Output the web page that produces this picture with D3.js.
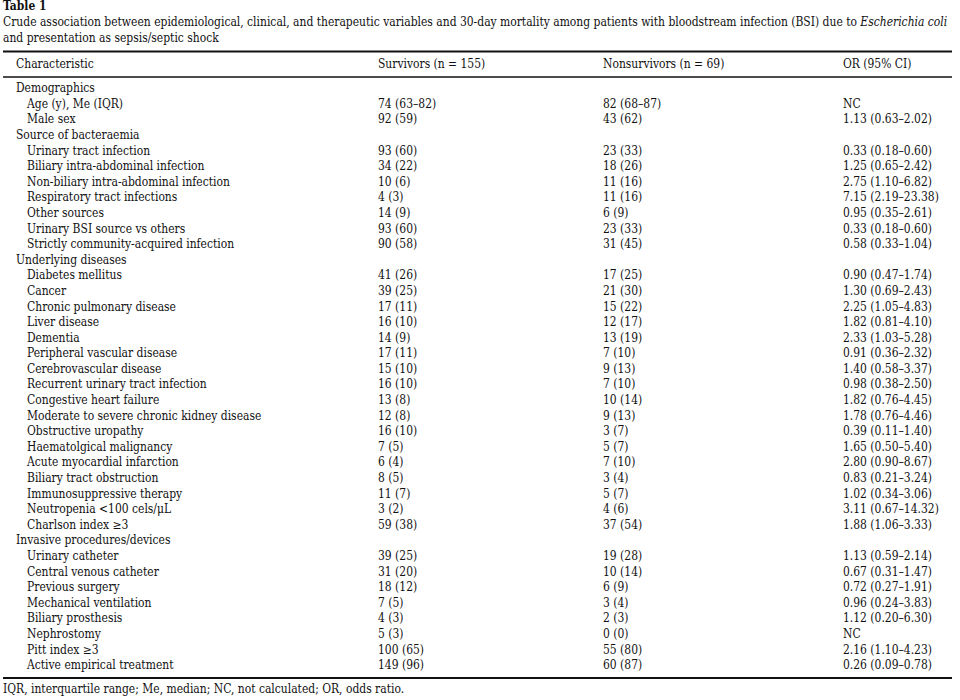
<!DOCTYPE html>
<html>
<head>
<meta charset="utf-8">
<script src="https://cdn.jsdelivr.net/npm/d3@7"></script>
<style>
  body { margin: 0; background: #fff; }
  svg text { font-family: "DejaVu Serif", serif; font-stretch: condensed; fill: #111; }
</style>
</head>
<body>
<svg id="chart"></svg>
<script>
const sectionHeads = [
  'Demographics',
  'Source of bacteraemia',
  'Underlying diseases',
  'Invasive procedures/devices',
];

const characteristics = [
  'Demographics',
  'Age (y), Me (IQR)',
  'Male sex',
  'Source of bacteraemia',
  'Urinary tract infection',
  'Biliary intra-abdominal infection',
  'Non-biliary intra-abdominal infection',
  'Respiratory tract infections',
  'Other sources',
  'Urinary BSI source vs others',
  'Strictly community-acquired infection',
  'Underlying diseases',
  'Diabetes mellitus',
  'Cancer',
  'Chronic pulmonary disease',
  'Liver disease',
  'Dementia',
  'Peripheral vascular disease',
  'Cerebrovascular disease',
  'Recurrent urinary tract infection',
  'Congestive heart failure',
  'Moderate to severe chronic kidney disease',
  'Obstructive uropathy',
  'Haematolgical malignancy',
  'Acute myocardial infarction',
  'Biliary tract obstruction',
  'Immunosuppressive therapy',
  'Neutropenia <100 cels/\u03bcL',
  'Charlson index \u22653',
  'Invasive procedures/devices',
  'Urinary catheter',
  'Central venous catheter',
  'Previous surgery',
  'Mechanical ventilation',
  'Biliary prosthesis',
  'Nephrostomy',
  'Pitt index \u22653',
  'Active empirical treatment',
];

const survivors = [
  '', '74 (63\u201382)', '92 (59)',
  '', '93 (60)', '34 (22)', '10 (6)', '4 (3)', '14 (9)', '93 (60)', '90 (58)',
  '', '41 (26)', '39 (25)', '17 (11)', '16 (10)', '14 (9)', '17 (11)', '15 (10)',
  '16 (10)', '13 (8)', '12 (8)', '16 (10)', '7 (5)', '6 (4)', '8 (5)', '11 (7)',
  '3 (2)', '59 (38)',
  '', '39 (25)', '31 (20)', '18 (12)', '7 (5)', '4 (3)', '5 (3)', '100 (65)', '149 (96)',
];

const nonsurvivors = [
  '', '82 (68\u201387)', '43 (62)',
  '', '23 (33)', '18 (26)', '11 (16)', '11 (16)', '6 (9)', '23 (33)', '31 (45)',
  '', '17 (25)', '21 (30)', '15 (22)', '12 (17)', '13 (19)', '7 (10)', '9 (13)',
  '7 (10)', '10 (14)', '9 (13)', '3 (7)', '5 (7)', '7 (10)', '3 (4)', '5 (7)',
  '4 (6)', '37 (54)',
  '', '19 (28)', '10 (14)', '6 (9)', '3 (4)', '2 (3)', '0 (0)', '55 (80)', '60 (87)',
];

const oddsRatios = [
  '', 'NC', '1.13 (0.63\u20132.02)',
  '', '0.33 (0.18\u20130.60)', '1.25 (0.65\u20132.42)', '2.75 (1.10\u20136.82)',
  '7.15 (2.19\u201323.38)', '0.95 (0.35\u20132.61)', '0.33 (0.18\u20130.60)',
  '0.58 (0.33\u20131.04)',
  '', '0.90 (0.47\u20131.74)', '1.30 (0.69\u20132.43)', '2.25 (1.05\u20134.83)',
  '1.82 (0.81\u20134.10)', '2.33 (1.03\u20135.28)', '0.91 (0.36\u20132.32)',
  '1.40 (0.58\u20133.37)', '0.98 (0.38\u20132.50)', '1.82 (0.76\u20134.45)',
  '1.78 (0.76\u20134.46)', '0.39 (0.11\u20131.40)', '1.65 (0.50\u20135.40)',
  '2.80 (0.90\u20138.67)', '0.83 (0.21\u20133.24)', '1.02 (0.34\u20133.06)',
  '3.11 (0.67\u201314.32)', '1.88 (1.06\u20133.33)',
  '', '1.13 (0.59\u20132.14)', '0.67 (0.31\u20131.47)', '0.72 (0.27\u20131.91)',
  '0.96 (0.24\u20133.83)', '1.12 (0.20\u20136.30)', 'NC', '2.16 (1.10\u20134.23)',
  '0.26 (0.09\u20130.78)',
];

const columnKeys = ['characteristic', 'survivors', 'nonsurvivors', 'or'];
const columnHeads = [
  'Characteristic',
  'Survivors (n = 155)',
  'Nonsurvivors (n = 69)',
  'OR (95% CI)',
];

const tableTitle = 'Table 1';
const captionLines = [
  ['Crude association between epidemiological, clinical, and therapeutic variables and 30-day mortality among patients with bloodstream infection (BSI) due to ', 'Escherichia coli'],
  ['and presentation as sepsis/septic shock', ''],
];
const footnote = 'IQR, interquartile range; Me, median; NC, not calculated; OR, odds ratio.';

const width = 960;
const height = 700;
const left = 3;
const right = 952;

const svg = d3.select('#chart').attr('width', width).attr('height', height);

// caption first, so the font size can be fitted to its width
const captionText = svg
  .append('g')
  .selectAll('text')
  .data(captionLines)
  .join('text')
  .attr('x', left)
  .attr('y', (d, i) => 26 + i * 15.5)
  .style('font-size', '12px');
captionText.append('tspan').text((d) => d[0]);
captionText
  .append('tspan')
  .style('font-style', 'italic')
  .text((d) => d[1]);

const measured = captionText.nodes()[0].getComputedTextLength();
const fontSize = Math.min(12.5, (12 * 945) / measured);
captionText.style('font-size', `${fontSize}px`);

svg
  .append('text')
  .attr('x', left)
  .attr('y', 10)
  .style('font-size', `${fontSize}px`)
  .style('font-weight', 'bold')
  .text(tableTitle);

const x = d3.scaleOrdinal().domain(columnKeys).range([16, 378, 603, 843]);

const y = d3
  .scalePoint()
  .domain(d3.range(characteristics.length))
  .range([88, 665]);

const rules = [
  { y: 51.5, w: 1.8 },
  { y: 77, w: 1.4 },
  { y: 678, w: 1.8 },
];
svg
  .append('g')
  .selectAll('line')
  .data(rules)
  .join('line')
  .attr('x1', left)
  .attr('x2', right)
  .attr('y1', (d) => d.y)
  .attr('y2', (d) => d.y)
  .attr('stroke', '#111')
  .attr('stroke-width', (d) => d.w);

svg
  .append('g')
  .selectAll('text')
  .data(columnHeads)
  .join('text')
  .attr('x', (d, i) => x(columnKeys[i]))
  .attr('y', 64)
  .attr('dy', '0.35em')
  .style('font-size', `${fontSize}px`)
  .text((d) => d);

const rows = characteristics.map((label, i) => ({
  label,
  head: sectionHeads.includes(label),
  survivors: survivors[i],
  nonsurvivors: nonsurvivors[i],
  or: oddsRatios[i],
  i,
}));

const row = svg
  .append('g')
  .selectAll('g')
  .data(rows)
  .join('g')
  .attr('transform', (d) => `translate(0,${y(d.i)})`);

row
  .append('text')
  .attr('x', (d) => x('characteristic') + (d.head ? 0 : 11))
  .attr('dy', '0.35em')
  .style('font-size', `${fontSize}px`)
  .text((d) => d.label);

['survivors', 'nonsurvivors', 'or'].forEach((key) => {
  row
    .append('text')
    .attr('x', x(key))
    .attr('dy', '0.35em')
    .style('font-size', `${fontSize}px`)
    .text((d) => d[key]);
});

svg
  .append('text')
  .attr('x', left)
  .attr('y', 689)
  .attr('dy', '0.35em')
  .style('font-size', `${fontSize}px`)
  .text(footnote);
</script>
</body>
</html>
